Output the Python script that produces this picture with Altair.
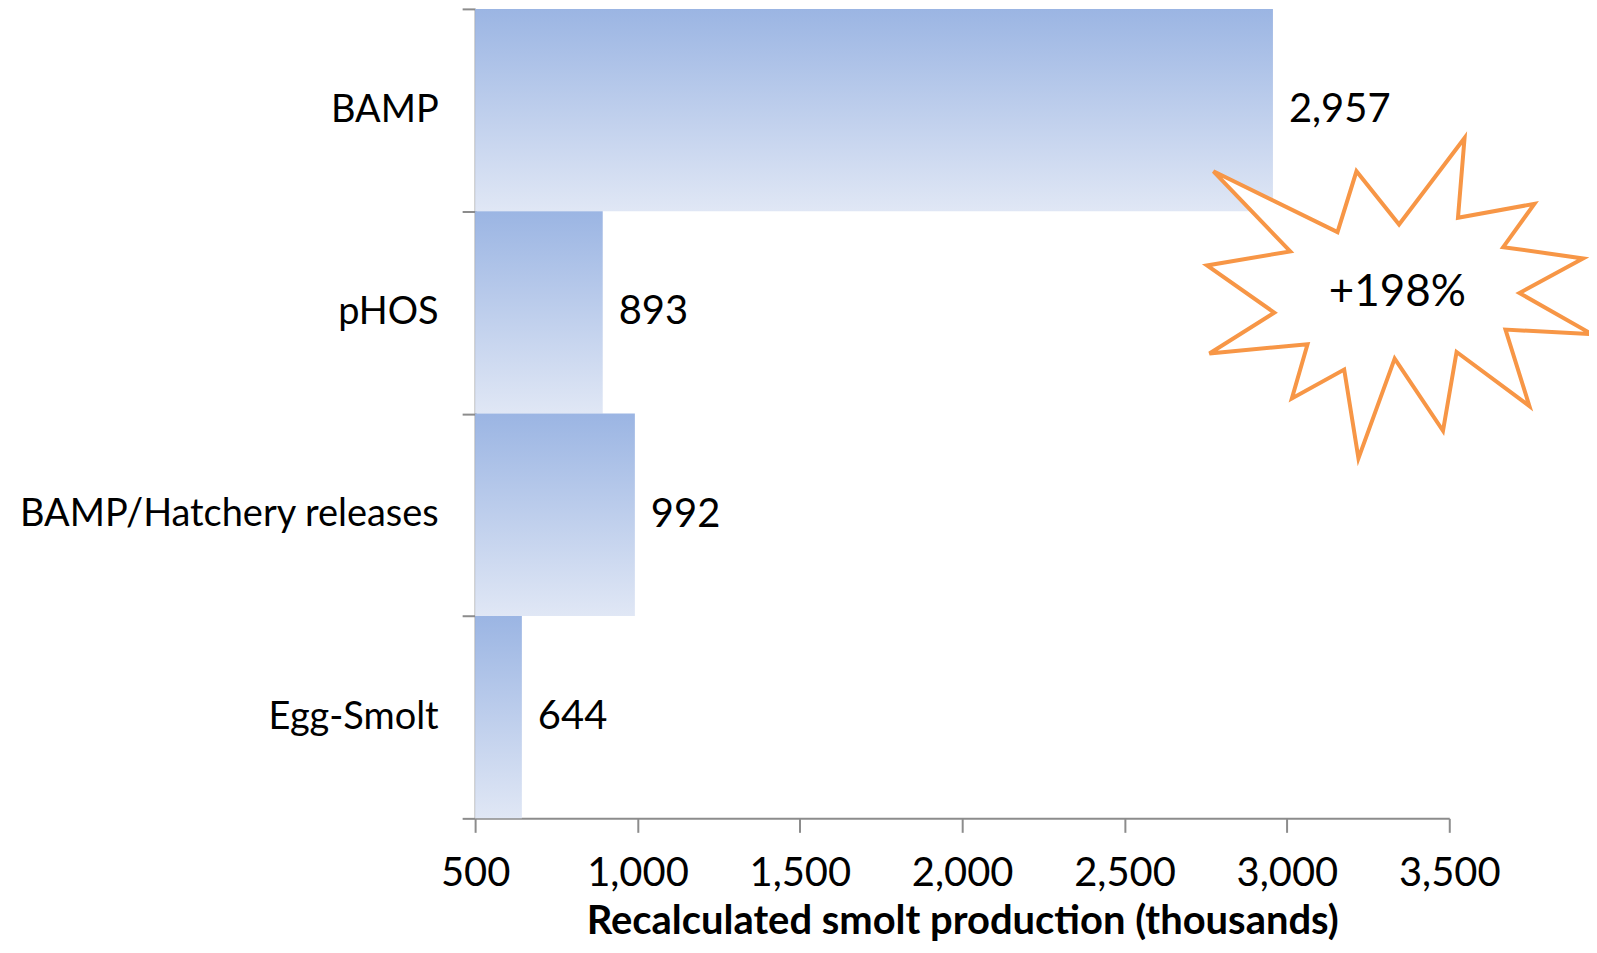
import altair as alt
import pandas as pd

# ---- data ----
categories = ["BAMP", "pHOS", "BAMP/Hatchery releases", "Egg-Smolt"]
values = [2957, 893, 992, 644]
axis_start = 500
x_ticks = [500, 1000, 1500, 2000, 2500, 3000, 3500]

# starburst annotation vertices (x in thousands, y in category-band units from top)
star_x = [2773.7, 3155.8, 3214.2, 3345.4, 3547.1, 3526.8, 3762.2, 3666.0, 3911.9, 3716.1,
          3939.6, 3673.1, 3746.9, 3522.5, 3480.7, 3331.9, 3220.3, 3176.4, 3015.3, 3063.5,
          2761.4, 2961.2, 2754.0, 3010.4]
star_y = [0.8025, 1.1033, 0.8025, 1.0654, 0.6377, 1.0323, 0.9633, 1.1773, 1.2330, 1.4042,
          1.6079, 1.5847, 1.9630, 1.6952, 2.0848, 1.7278, 2.2210, 1.7820, 1.9250, 1.6572,
          1.7031, 1.5009, 1.2676, 1.1985]
star_text = ["+198%"]
star_text_x = [3340]
star_text_y = [1.405]

FONT = "Lato"
AXIS_GRAY = "#8c8c8c"
TITLE = "Recalculated smolt production (thousands)"

bars_df = pd.DataFrame({"category": categories, "value": values, "base": [axis_start] * len(values)})
star_df = pd.DataFrame({"value": star_x, "sy": star_y, "ord": list(range(len(star_x)))})
star_txt_df = pd.DataFrame({"value": star_text_x, "sy": star_text_y, "label": star_text})

x_scale = alt.Scale(domain=[500, 3500], nice=False, zero=False)
x_axis = alt.Axis(
    values=x_ticks, labelExpr="format(datum.value, ',')", labelFont=FONT, labelFontSize=40,
    labelColor="black", labelFlush=False, labelOverlap=False, labelPadding=21, tickSize=14,
    tickColor=AXIS_GRAY, tickWidth=2, domainColor=AXIS_GRAY, domainWidth=2, grid=False,
    title=TITLE, titleFont=FONT, titleFontSize=40, titleFontWeight="bold", titleColor="black",
    titlePadding=8,
)

y_enc = alt.Y(
    "category:N", sort=categories,
    scale=alt.Scale(paddingInner=0, paddingOuter=0),
    axis=alt.Axis(
        title=None, labelFont=FONT, labelFontSize=38, labelColor="black", labelPadding=24,
        labelLimit=600, tickSize=13, tickColor=AXIS_GRAY, tickWidth=2, tickBand="extent",
        domainColor=AXIS_GRAY, domainWidth=2, grid=False,
    ),
)

gradient = alt.Gradient(
    gradient="linear", x1=0, y1=0, x2=0, y2=1,
    stops=[alt.GradientStop(color="#9bb5e3", offset=0),
           alt.GradientStop(color="#e0e7f5", offset=1)],
)

bars = alt.Chart(bars_df).mark_bar(color=gradient).encode(
    x=alt.X("value:Q", scale=x_scale, axis=x_axis),
    x2="base:Q",
    y=y_enc,
)

labels = alt.Chart(bars_df).mark_text(
    align="left", baseline="middle", dx=16, font=FONT, fontSize=40, color="black"
).encode(
    x=alt.X("value:Q", scale=x_scale, axis=x_axis),
    y=y_enc,
    text=alt.Text("value:Q", format=","),
)

sy_scale = alt.Scale(domain=[0, 4], reverse=True, nice=False, zero=False)

star = alt.Chart(star_df).mark_line(
    interpolate="linear-closed", stroke="#f79646", strokeWidth=4, fill="white"
).encode(
    x=alt.X("value:Q", scale=x_scale, axis=x_axis),
    y=alt.Y("sy:Q", scale=sy_scale, axis=None),
    order="ord:Q",
)

star_label = alt.Chart(star_txt_df).mark_text(
    align="center", baseline="middle", font=FONT, fontSize=44, color="black"
).encode(
    x=alt.X("value:Q", scale=x_scale, axis=x_axis),
    y=alt.Y("sy:Q", scale=sy_scale, axis=None),
    text="label:N",
)

chart = alt.layer(
    alt.layer(bars, labels),
    alt.layer(star, star_label),
).resolve_scale(y="independent").properties(
    width=976, height=811,
    autosize=alt.AutoSizeParams(type="none"),
    padding={"left": 468, "top": 0, "right": 140, "bottom": 126},
).configure_view(stroke=None)

chart.save("out.html", embed_options={"renderer": "svg", "actions": False})
